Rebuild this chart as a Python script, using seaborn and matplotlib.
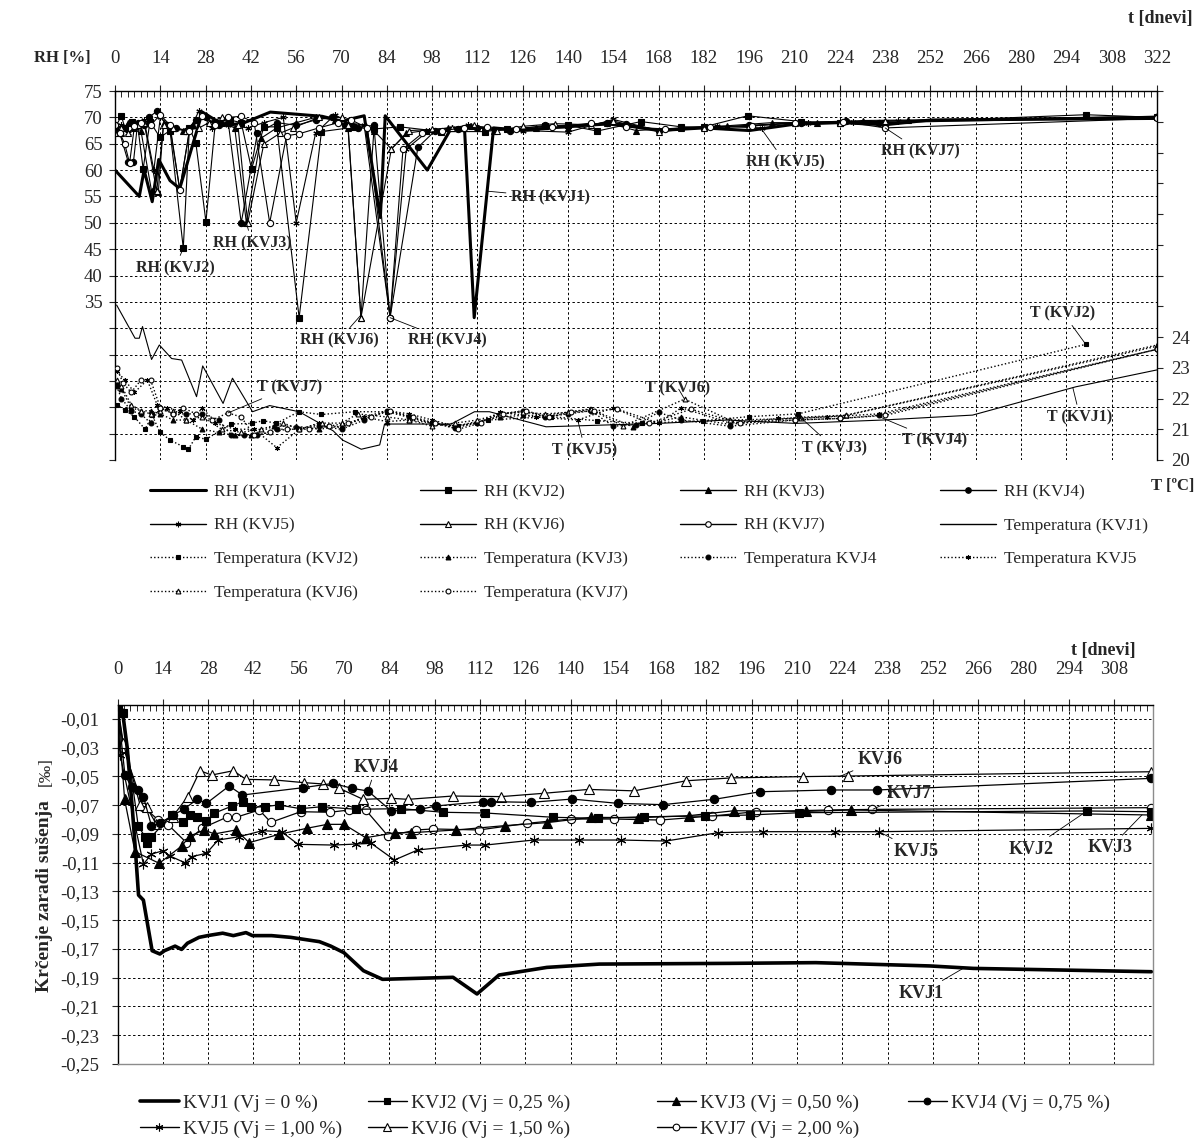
import numpy as np
import matplotlib
matplotlib.use("Agg")
import matplotlib.pyplot as plt
from matplotlib.lines import Line2D
from matplotlib.ticker import MultipleLocator, FixedLocator, FixedFormatter
import seaborn as sns

sns.set_style("white")
plt.rcParams["font.family"] = ["Liberation Serif", "DejaVu Serif"]

# ---------------- relative humidity [%] (top panel, left axis) ----------------
rh1_t = [0, 7.5, 9, 11.5, 13.5, 17, 20, 27, 31, 35, 40, 48, 56, 64, 70, 77, 82, 83.5, 96.5, 103.5, 108, 111, 117,
         126, 140, 154, 168, 182, 196, 210, 224, 238, 252, 322]
rh1_v = [60, 55, 60, 54, 62, 58, 56.5, 71, 69.5, 68.5, 69, 71, 70.6, 70.2, 69.3, 70.3, 51, 70.3, 60, 67.5, 68, 32, 68,
         67.5, 68.3, 68.8, 67.5, 68, 67.5, 68.7, 69, 68.6, 69.5, 69.8]

rh2_t = [0, 2, 3, 5.4, 7, 8.7, 10.8, 13.9, 17, 21.1, 23, 25, 28.1, 31, 35.5, 39, 42.2, 46, 50, 56.9, 63.8, 73.6, 80,
         88, 100.8, 114.2, 121, 133, 140, 149, 162.5, 175, 182, 195.5, 212, 224, 238, 300, 322]
rh2_v = [68, 70.3, 68, 69.1, 68.5, 60.2, 69.2, 66.2, 67.5, 45.2, 68, 65.1, 50.2, 69, 69.5, 69, 60.2, 68.2, 68.2, 32,
         67.3, 68.1, 67.8, 68.2, 67.3, 67.3, 67.8, 68.3, 68.5, 67.4, 69.2, 68.2, 68.2, 70.3, 69.2, 69, 69, 70.5, 70]

rh3_t = [0, 2, 4, 6, 8, 11.3, 13.4, 15, 18, 21, 24, 28, 33, 37, 40.6, 45, 50, 56, 62, 68, 72, 76, 80, 85.4, 90, 96,
         103, 110, 117, 130, 140, 152, 161, 175, 189, 203, 217, 231, 245, 322]
rh3_v = [68, 67, 69, 68, 67.5, 56, 55.9, 69, 68, 67.5, 68.5, 70.5, 69, 68, 50, 66, 68, 69, 70, 69.5, 68, 32, 67.5, 64,
         67, 67.5, 68, 68.3, 67.5, 68, 68, 69, 67.5, 68, 68.4, 69, 69, 69.4, 69.5, 70.2]

rh4_t = [0, 1.5, 4.1, 5.7, 7, 9, 10.5, 13, 16, 19, 22, 25, 28, 32, 35, 39, 44, 50, 56, 62, 67, 71, 75, 80, 85, 93.6,
         99, 106, 112, 122, 133, 140, 152, 158, 168, 182, 196, 212, 226, 236, 322]
rh4_v = [68.5, 67, 61.5, 61.5, 69, 68.5, 70, 71.2, 68.5, 68, 67.5, 69.5, 70, 68.5, 69, 50, 67, 69, 68.5, 69.5, 70,
         68.5, 68, 68.5, 32, 64.3, 67.5, 67.8, 68, 67.5, 68.5, 68.3, 69, 68.8, 67.5, 68, 68.5, 69, 69.3, 69, 70]

rh5_t = [0, 2, 4, 6, 9, 12, 14, 17, 20, 23, 26, 30, 35, 41, 46, 52, 56, 62, 68, 72, 77, 85, 90, 97, 104, 109, 115,
         126, 140, 154, 168, 186, 200, 214, 228, 242, 322]
rh5_v = [67, 68.5, 67, 68, 69.5, 60, 70, 68, 56.3, 67.5, 71.3, 68, 68.5, 68, 69, 70, 50, 67, 70.5, 69, 68.5, 32, 64,
         67.5, 68, 68.5, 68, 67.5, 67.2, 69.6, 67.5, 68.3, 68, 69, 69.1, 69.3, 70]

rh6_t = [0, 2, 4, 7, 9, 12.9, 15, 18, 22, 26, 29, 33, 38, 41, 46, 51, 55, 63, 70, 72, 76, 85.4, 91, 98, 104, 111, 118,
         126, 136, 147, 154, 168, 182, 196, 210, 224, 238, 322]
rh6_v = [67, 68, 67, 68.5, 69, 56, 68.5, 68, 67.5, 68, 69, 70, 68.5, 50, 65, 67, 68, 70, 70, 68.5, 32, 64, 67.5, 67.7,
         68, 68.5, 67.5, 68.3, 68.8, 68.6, 69.3, 67.3, 68, 68.3, 69, 69, 69.3, 70.2]

rh7_t = [0, 1.5, 3, 4.5, 6, 8, 11, 14, 17, 20, 23, 27, 31, 35, 39, 43, 47.8, 53, 57, 63, 69, 73, 78, 85, 89, 95, 101,
         108, 115, 124, 135, 147, 158, 170, 184, 197, 210, 225, 238, 322]
rh7_v = [68.5, 67, 65, 61.3, 68.3, 69, 68.5, 70.5, 68.5, 56.3, 67.5, 70.3, 68.5, 70, 70.2, 69, 50, 66.5, 66.9, 68, 69,
         69.5, 68, 32, 64, 67, 67.5, 68, 68.2, 67.7, 68.1, 68.9, 68.2, 67.8, 68.2, 68.4, 68.9, 69.2, 68, 69.8]

# ---------------- temperature [deg C] (top panel, right axis) ----------------
t1_t = [0.5, 6.2, 7.5, 8.5, 11.3, 13.7, 17.5, 20.6, 25.2, 27.1, 33.4, 36.3, 42.5, 47.8, 56.9, 67.4, 70.3, 76.1, 81.8,
        83.3, 103.9, 111.1, 115.7, 133.2, 167.9, 189.2, 210.4, 237.3, 265, 296.9, 322]
t1_v = [25.04, 23.96, 23.96, 24.34, 23.27, 23.74, 23.3, 23.25, 22.06, 23.06, 21.84, 22.66, 21.57, 21.77, 21.57, 20.95,
        20.65, 20.35, 20.49, 21.17, 21.17, 21.57, 21.57, 21.08, 21.19, 21.3, 21.19, 21.3, 21.46, 22.38, 22.93]

t2_t = [0.5, 3.1, 6, 9.3, 11.5, 13.9, 17, 21.1, 22.7, 25, 28.1, 35.8, 42.2, 45.8, 49.9, 56.8, 63.8, 74.1, 84, 98, 106,
        115.2, 134.6, 148.8, 162.9, 181.7, 196, 211.1, 300]
t2_v = [21.79, 21.63, 21.4, 21.0, 21.45, 20.9, 20.65, 20.43, 20.35, 20.76, 20.67, 21.17, 21.19, 21.28, 21.19, 21.57,
        21.48, 21.57, 21.57, 21.2, 21.1, 21.3, 21.41, 21.28, 21.19, 21.28, 21.41, 21.5, 23.76]

t3_t = [0.5, 2, 5, 8, 11, 14, 18, 22, 27, 32, 37, 42, 49, 56, 63, 70, 77, 84, 91, 98, 105, 112, 119, 126, 133, 146.7,
        160.1, 175, 189.9, 211.8, 226, 322]
t3_v = [22.5, 22.3, 21.7, 21.6, 21.6, 21.5, 21.3, 21.3, 21.0, 20.9, 20.8, 20.8, 21.1, 21.1, 21.0, 21.1, 21.4, 21.25,
        21.3, 21.2, 21.1, 21.25, 21.4, 21.45, 21.45, 21.66, 21.08, 21.4, 21.16, 21.39, 21.46, 23.74]

t4_t = [0.5, 2, 5, 8, 11, 14, 18, 22, 27, 32, 36, 40, 44, 50, 57, 63, 70, 77, 84, 91, 98, 105, 112, 119, 126, 133, 140,
        147, 154, 161, 168, 175, 190, 210, 224, 236, 322]
t4_v = [22.4, 22.0, 21.6, 21.5, 21.2, 21.7, 21.5, 21.5, 21.5, 21.3, 20.8, 20.8, 20.8, 21.0, 21.0, 21.1, 21.0, 21.3,
        21.6, 21.4, 21.2, 21.05, 21.2, 21.5, 21.6, 21.4, 21.5, 21.6, 21.1, 21.15, 21.55, 21.3, 21.1, 21.3, 21.35,
        21.45, 23.6]

t5_t = [0.5, 3, 6, 10, 13, 16, 20, 24, 27, 31, 37, 43, 50, 57, 63, 70, 77, 84, 91, 98, 105, 112, 119, 130, 143, 154,
        168, 175, 190, 205, 220, 236, 322]
t5_v = [22.9, 22.6, 22.2, 22.6, 21.8, 21.7, 21.6, 21.3, 21.7, 21.2, 21.0, 21.0, 20.4, 21.0, 21.2, 21.05, 21.4, 21.6,
        21.5, 21.3, 21.1, 21.2, 21.55, 21.4, 21.3, 21.7, 21.2, 21.7, 21.2, 21.35, 21.4, 21.5, 23.6]

t6_t = [0.5, 2, 5, 8, 11, 14, 18, 22, 27, 33, 39, 45, 52, 57, 64, 70, 75, 84, 91, 98, 105, 112, 119, 126, 133, 140,
        147, 157, 176, 190, 212, 226, 322]
t6_v = [22.6, 22.4, 21.8, 21.6, 21.5, 21.6, 21.6, 21.3, 21.4, 21.0, 20.9, 21.0, 21.2, 21.0, 21.2, 21.2, 21.5, 21.4,
        21.3, 21.1, 21.2, 21.3, 21.5, 21.55, 21.5, 21.55, 21.65, 21.1, 21.98, 21.3, 21.35, 21.45, 23.7]

t7_t = [0.5, 2.5, 5, 8, 11, 14, 18, 21, 25, 30, 34.9, 39, 43, 48, 53, 60, 66, 72, 79, 85, 92, 99, 106, 113, 120, 127,
        134, 141, 148, 155, 165, 178, 193, 210, 224, 238, 322]
t7_v = [23.0, 22.5, 22.2, 22.6, 22.6, 21.7, 21.5, 21.7, 21.5, 21.3, 21.53, 21.4, 20.8, 20.9, 21.0, 21.0, 21.1, 21.2,
        21.4, 21.6, 21.4, 21.2, 21.0, 21.2, 21.5, 21.6, 21.4, 21.55, 21.6, 21.65, 21.2, 21.65, 21.2, 21.3, 21.35,
        21.45, 23.6]

# ---------------- drying shrinkage [per mille] (bottom panel) ----------------
k1_t = [0, 1.5, 3, 4.5, 5.5, 6.5, 8, 10.7, 13.1, 14.5, 17.8, 19.8, 21.6, 25.2, 28.1, 32.5, 35.8, 39.7, 41.7, 47.6,
        53.5, 62.4, 65.9, 70.0, 76, 81.9, 103.7, 111.1, 117.9, 132.7, 148.9, 189, 215.8, 251.1, 264.5, 319.5]
k1_v = [0, -0.004, -0.03, -0.07, -0.10, -0.1325, -0.136, -0.1712, -0.1735, -0.1712, -0.168, -0.1703, -0.166, -0.1619,
        -0.1606, -0.159, -0.1607, -0.1586, -0.1607, -0.1607, -0.1619, -0.1649, -0.168, -0.1726, -0.1851, -0.1911,
        -0.1897, -0.2013, -0.1881, -0.1828, -0.1805, -0.18, -0.1795, -0.1818, -0.1835, -0.1858]

k2_t = [0, 1.6, 6.4, 8.5, 9, 10.5, 16.7, 20.3, 22.4, 24.7, 27.5, 29.8, 35.5, 38.8, 41.4, 45.5, 49.8, 56.6, 63.2, 73.6,
        87.7, 100.6, 113.7, 134.7, 148.6, 162.8, 181.6, 195.4, 210.6, 299.6, 319.5]
k2_v = [0, -0.0056, -0.0844, -0.0919, -0.0965, -0.0919, -0.0768, -0.0814, -0.0768, -0.078, -0.0807, -0.0756, -0.0705,
        -0.0675, -0.0715, -0.071, -0.0698, -0.0724, -0.071, -0.0728, -0.0724, -0.0749, -0.0754, -0.0784, -0.0791,
        -0.078, -0.0775, -0.0768, -0.0752, -0.074, -0.0745]

k3_t = [0, 2.2, 5.4, 12.9, 19.8, 22.4, 26.8, 29.9, 36.6, 40.7, 50, 58.6, 64.8, 70, 76.7, 85.9, 90.8, 104.7, 119.6,
        132.8, 146.4, 160.7, 176.5, 190.6, 212.7, 226.6, 319.5]
k3_v = [0, -0.066, -0.1023, -0.1104, -0.0984, -0.0914, -0.0872, -0.09, -0.0872, -0.096, -0.0902, -0.086, -0.0833,
        -0.0833, -0.0926, -0.0891, -0.0891, -0.0872, -0.0842, -0.0821, -0.0784, -0.0787, -0.0773, -0.0738, -0.0743,
        -0.0733, -0.0768]

k4_t = [0, 2.3, 4.4, 6.4, 8, 10.5, 13.1, 17.2, 20.5, 24.6, 27.5, 34.5, 38.6, 57.3, 66.6, 72.6, 77.4, 84.6, 93.4, 98.5,
        112.9, 115.5, 127.7, 140.5, 154.6, 168.5, 184.4, 198.6, 220.4, 234.6, 319.5]
k4_v = [0, -0.049, -0.0575, -0.0594, -0.064, -0.0844, -0.0826, -0.0768, -0.0728, -0.0659, -0.0687, -0.0566, -0.0629,
        -0.0578, -0.0548, -0.0583, -0.0601, -0.074, -0.0729, -0.0705, -0.0675, -0.0675, -0.068, -0.0657, -0.0687,
        -0.0696, -0.0659, -0.0606, -0.0594, -0.0594, -0.0513]

k5_t = [0, 0.8, 8, 10.5, 14.1, 16.2, 20.8, 22.9, 27.5, 31.1, 37.6, 44.8, 50.7, 55.8, 66.8, 73.6, 78.4, 85.6, 92.8,
        107.8, 113.7, 128.6, 142.7, 155.6, 169.5, 185.6, 199.6, 221.8, 235.3, 319.5]
k5_v = [0, -0.035, -0.111, -0.104, -0.1016, -0.1053, -0.110, -0.1058, -0.1034, -0.0942, -0.0919, -0.0877, -0.0884,
        -0.0972, -0.0977, -0.097, -0.0965, -0.1081, -0.1011, -0.0977, -0.0977, -0.0942, -0.0942, -0.0942, -0.0949,
        -0.0891, -0.0884, -0.0884, -0.0884, -0.0861]

k6_t = [0, 1.8, 7, 9, 12, 17, 21.7, 25.5, 29.1, 35.8, 39.7, 48.4, 57.7, 63.5, 68.5, 75.9, 84.6, 89.8, 103.6, 118.6,
        131.7, 145.6, 159.7, 175.7, 189.6, 211.7, 225.6, 319.5]
k6_v = [0, -0.027, -0.07, -0.0715, -0.083, -0.078, -0.064, -0.046, -0.049, -0.046, -0.052, -0.0524, -0.0543, -0.0552,
        -0.0582, -0.0659, -0.0652, -0.0659, -0.0636, -0.064, -0.0617, -0.059, -0.06, -0.053, -0.051, -0.0501, -0.0497,
        -0.0467]

k7_t = [0, 1.8, 8, 12.6, 15.7, 21.3, 26, 33.7, 36.6, 43.8, 47.4, 56.6, 65.6, 71.6, 76.7, 83.6, 92.3, 97.5, 111.7,
        126.6, 140, 153.5, 167.7, 183.7, 197.3, 219.7, 233.3, 319.5]
k7_v = [0, -0.03, -0.071, -0.0803, -0.0837, -0.096, -0.0861, -0.0784, -0.0784, -0.0733, -0.0819, -0.0745, -0.0749,
        -0.0733, -0.0733, -0.0914, -0.0872, -0.0865, -0.0872, -0.0826, -0.0796, -0.0796, -0.0803, -0.0775, -0.0745,
        -0.0733, -0.0729, -0.0717]

rh_names = ["RH (KVJ1)", "RH (KVJ2)", "RH (KVJ3)", "RH (KVJ4)", "RH (KVJ5)", "RH (KVJ6)", "RH (KVJ7)"]
t_names = ["Temperatura (KVJ1)", "Temperatura (KVJ2)", "Temperatura (KVJ3)", "Temperatura KVJ4",
           "Temperatura KVJ5", "Temperatura (KVJ6)", "Temperatura (KVJ7)"]
k_names = ["KVJ1 (Vj = 0 %)", "KVJ2 (Vj = 0,25 %)", "KVJ3 (Vj = 0,50 %)", "KVJ4 (Vj = 0,75 %)",
           "KVJ5 (Vj = 1,00 %)", "KVJ6 (Vj = 1,50 %)", "KVJ7 (Vj = 2,00 %)"]

W, H = 1199, 1144
ASTER = (6, 2, 0)
# marker, face colour per specimen (KVJ1 has no marker)
MARKS = [None, ("s", "k"), ("^", "k"), ("o", "k"), (ASTER, "k"), ("^", "white"), ("o", "white")]
GRID = dict(color="k", linewidth=0.7, linestyle=(0, (2.5, 2.5)))


def fx(px):
    return px / W


def fy(py):
    return 1 - py / H


def style(i, size, ls="-", lw=0.8, thick=2.4):
    if i == 0:
        return dict(color="k", linewidth=thick if ls == "-" else lw, linestyle=ls)
    m, fc = MARKS[i]
    return dict(color="k", linewidth=lw, linestyle=ls, marker=m, markersize=size, mfc=fc, mec="k", mew=0.8)


def draw(ax, t, v, **kw):
    sns.lineplot(x=t, y=v, ax=ax, estimator=None, sort=False, legend=False, **kw)


fig = plt.figure(figsize=(W / 100, H / 100), dpi=100)

# ======================= top panel: RH and temperature =======================
ax1 = fig.add_axes([fx(115), fy(460), (1157 - 115) / W, (460 - 91) / H])
ax2 = ax1.twinx()

rh_t = [rh1_t, rh2_t, rh3_t, rh4_t, rh5_t, rh6_t, rh7_t]
rh_v = [rh1_v, rh2_v, rh3_v, rh4_v, rh5_v, rh6_v, rh7_v]
t_t = [t1_t, t2_t, t3_t, t4_t, t5_t, t6_t, t7_t]
t_v = [t1_v, t2_v, t3_v, t4_v, t5_v, t6_v, t7_v]

for i in range(7):
    draw(ax2, t_t[i], t_v[i], **style(i, 3.5, ls=(0, (1, 1.6)), lw=1.0))
    if i == 0:
        ax2.lines[-1].set_linestyle("-")
        ax2.lines[-1].set_linewidth(0.8)
for i in range(7):
    draw(ax1, rh_t[i], rh_v[i], **style(i, 4.5, lw=0.8, thick=2.2))

ax1.set_xlim(0, 322)
ax1.set_ylim(5, 75)
ax2.set_ylim(20, 32)
ax1.set_xlabel("")
ax1.set_ylabel("")
ax2.set_ylabel("")

ax1.xaxis.set_ticks_position("top")
ax1.xaxis.set_major_locator(MultipleLocator(14))
ax1.xaxis.set_minor_locator(MultipleLocator(2))
ax1.tick_params(axis="x", which="major", direction="inout", length=9, width=0.8, pad=13,
                labelsize=13.5, top=True, bottom=False, labeltop=True, labelbottom=False)
ax1.tick_params(axis="x", which="minor", direction="in", length=4, width=0.7, top=True, bottom=False)

rh_ticks = list(range(5, 80, 5))
ax1.yaxis.set_major_locator(FixedLocator(rh_ticks))
ax1.yaxis.set_major_formatter(FixedFormatter([str(v) if v >= 35 else "" for v in rh_ticks]))
ax1.tick_params(axis="y", direction="out", length=4, width=0.8, pad=5, labelsize=13.5, left=True)

t_ticks = list(range(20, 33))
ax2.yaxis.set_major_locator(FixedLocator(t_ticks))
ax2.yaxis.set_major_formatter(FixedFormatter([str(v) if v <= 24 else "" for v in t_ticks]))
ax2.tick_params(axis="y", direction="out", length=4, width=0.8, pad=6, labelsize=13.5, right=True)

ax1.grid(True, which="major", **GRID)
ax2.grid(False)
for sp in ["bottom", "right"]:
    ax1.spines[sp].set_visible(False)
for sp in ["bottom", "left", "top"]:
    ax2.spines[sp].set_visible(False)
for a in (ax1, ax2):
    for sp in a.spines.values():
        sp.set_color("k")
        sp.set_linewidth(1.0)

# callouts
lab = dict(fontsize=11.5, fontweight="bold", ha="center", va="center", textcoords="figure pixels",
           annotation_clip=False,
           arrowprops=dict(arrowstyle="-", color="k", lw=0.6, shrinkA=1, shrinkB=0))
ax1.annotate("RH (KVJ2)", xy=(21.1, 45.2), xytext=(175, H - 268), **lab)
ax1.annotate("RH (KVJ3)", xy=(40.6, 50), xytext=(252, H - 243), **lab)
ax1.annotate("RH (KVJ1)", xy=(115, 56), xytext=(550, H - 197), **lab)
ax1.annotate("RH (KVJ5)", xy=(200, 67.6), xytext=(785, H - 162), **lab)
ax1.annotate("RH (KVJ7)", xy=(238, 68), xytext=(920, H - 151), **lab)
ax1.annotate("RH (KVJ6)", xy=(76, 32.5), xytext=(339, H - 340), **lab)
ax1.annotate("RH (KVJ4)", xy=(85, 32), xytext=(447, H - 340), **lab)
ax2.annotate("T (KVJ7)", xy=(34.9, 21.53), xytext=(290, H - 387), **lab)
ax2.annotate("T (KVJ6)", xy=(176, 21.98), xytext=(678, H - 388), **lab)
ax2.annotate("T (KVJ5)", xy=(143, 21.3), xytext=(585, H - 450), **lab)
ax2.annotate("T (KVJ3)", xy=(211.8, 21.39), xytext=(834, H - 448), **lab)
ax2.annotate("T (KVJ4)", xy=(235, 21.46), xytext=(935, H - 440), **lab)
ax2.annotate("T (KVJ2)", xy=(300, 23.76), xytext=(1063, H - 313), **lab)
ax2.annotate("T (KVJ1)", xy=(296, 22.35), xytext=(1080, H - 417), **lab)

fig.text(fx(62), fy(58), "RH [%]", fontsize=12, fontweight="bold", ha="center", va="center")
fig.text(fx(1160), fy(18), "t [dnevi]", fontsize=13, fontweight="bold", ha="center", va="center")
fig.text(fx(1173), fy(486), "T [ºC]", fontsize=12, fontweight="bold", ha="center", va="center")

# legend of the top panel, one block per column
top_handles = []
for i in range(7):
    top_handles.append(Line2D([], [], **style(i, 4, lw=1.0, thick=2.2)))
t_handles = []
for i in range(7):
    h = Line2D([], [], **style(i, 3.5, ls=(0, (1, 1.6)), lw=1.0))
    if i == 0:
        h.set_linestyle("-")
    t_handles.append(h)
cols_top = [
    ([top_handles[0], top_handles[4], t_handles[1], t_handles[5]], [rh_names[0], rh_names[4], t_names[1], t_names[5]]),
    ([top_handles[1], top_handles[5], t_handles[2], t_handles[6]], [rh_names[1], rh_names[5], t_names[2], t_names[6]]),
    ([top_handles[2], top_handles[6], t_handles[3]], [rh_names[2], rh_names[6], t_names[3]]),
    ([top_handles[3], t_handles[0], t_handles[4]], [rh_names[3], t_names[0], t_names[4]]),
]
for (hs, ls), x0 in zip(cols_top, [150, 420, 680, 940]):
    fig.legend(hs, ls, loc="upper left", bbox_to_anchor=(fx(x0), fy(484)), frameon=False, fontsize=12.5,
               handlelength=3.2, handletextpad=0.5, labelspacing=1.0, borderpad=0, borderaxespad=0)

# ======================= bottom panel: drying shrinkage =======================
ax3 = fig.add_axes([fx(117.5), fy(1064), (1153 - 117.5) / W, (1064 - 704.6) / H])
k_t = [k1_t, k2_t, k3_t, k4_t, k5_t, k6_t, k7_t]
k_v = [k1_v, k2_v, k3_v, k4_v, k5_v, k6_v, k7_v]
k_size = [0, 6, 6.5, 6, 7, 7.5, 6]
for i in range(6, -1, -1):
    draw(ax3, k_t[i], k_v[i], **style(i, k_size[i], lw=0.9, thick=2.6))

ax3.set_xlim(0, 320)
ax3.set_ylim(-0.25, 0)
ax3.set_xlabel("")
ax3.set_ylabel("")
ax3.xaxis.set_ticks_position("top")
ax3.xaxis.set_major_locator(MultipleLocator(14))
ax3.xaxis.set_minor_locator(MultipleLocator(2))
ax3.tick_params(axis="x", which="major", direction="inout", length=9, width=0.8, pad=15,
                labelsize=13.5, top=True, bottom=False, labeltop=True, labelbottom=False)
ax3.tick_params(axis="x", which="minor", direction="in", length=4, width=0.7, top=True, bottom=False)
k_ticks = [round(-0.01 - 0.02 * i, 2) for i in range(13)]
ax3.yaxis.set_major_locator(FixedLocator(k_ticks))
ax3.yaxis.set_major_formatter(FixedFormatter([f"{v:.2f}".replace(".", ",") for v in k_ticks]))
ax3.tick_params(axis="y", direction="out", length=4, width=0.8, pad=9, labelsize=13.5, left=True)
ax3.grid(True, which="major", **GRID)
for sp in ["left", "top"]:
    ax3.spines[sp].set_color("k")
    ax3.spines[sp].set_linewidth(1.0)
for sp in ["right", "bottom"]:
    ax3.spines[sp].set_color("#8c8c8c")
    ax3.spines[sp].set_linewidth(1.0)

labk = dict(lab, fontsize=13)
ax3.annotate("KVJ4", xy=(77.4, -0.0601), xytext=(376, H - 767), **labk)
ax3.annotate("KVJ6", xy=(223, -0.0502), xytext=(880, H - 759), **labk)
ax3.annotate("KVJ7", xy=(233.5, -0.0727), xytext=(909, H - 793), **labk)
ax3.annotate("KVJ5", xy=(235.3, -0.0884), xytext=(916, H - 851), **labk)
ax3.annotate("KVJ2", xy=(299.6, -0.074), xytext=(1031, H - 849), **labk)
ax3.annotate("KVJ3", xy=(316.6, -0.0767), xytext=(1110, H - 848), **labk)
ax3.annotate("KVJ1", xy=(261.6, -0.1831), xytext=(921, H - 993), **labk)

fig.text(fx(1103), fy(650), "t [dnevi]", fontsize=13, fontweight="bold", ha="center", va="center")
fig.text(fx(45), fy(896), "Krčenje zaradi sušenja", fontsize=14, fontweight="bold", rotation=90,
         ha="center", va="center")
fig.text(fx(46), fy(772), "[‰]", fontsize=12.5, rotation=90, ha="center", va="center")

k_handles = [Line2D([], [], **style(i, k_size[i] * 0.8 if i else 0, lw=1.0, thick=2.6)) for i in range(7)]
cols_bot = [
    ([k_handles[0], k_handles[4]], [k_names[0], k_names[4]]),
    ([k_handles[1], k_handles[5]], [k_names[1], k_names[5]]),
    ([k_handles[2], k_handles[6]], [k_names[2], k_names[6]]),
    ([k_handles[3]], [k_names[3]]),
]
for (hs, ls), x0 in zip(cols_bot, [140, 368, 657, 908]):
    fig.legend(hs, ls, loc="upper left", bbox_to_anchor=(fx(x0), fy(1094)), frameon=False, fontsize=14,
               handlelength=2.0, handletextpad=0.2, labelspacing=0.45, borderpad=0, borderaxespad=0)

fig.savefig("out.png", dpi=100)
